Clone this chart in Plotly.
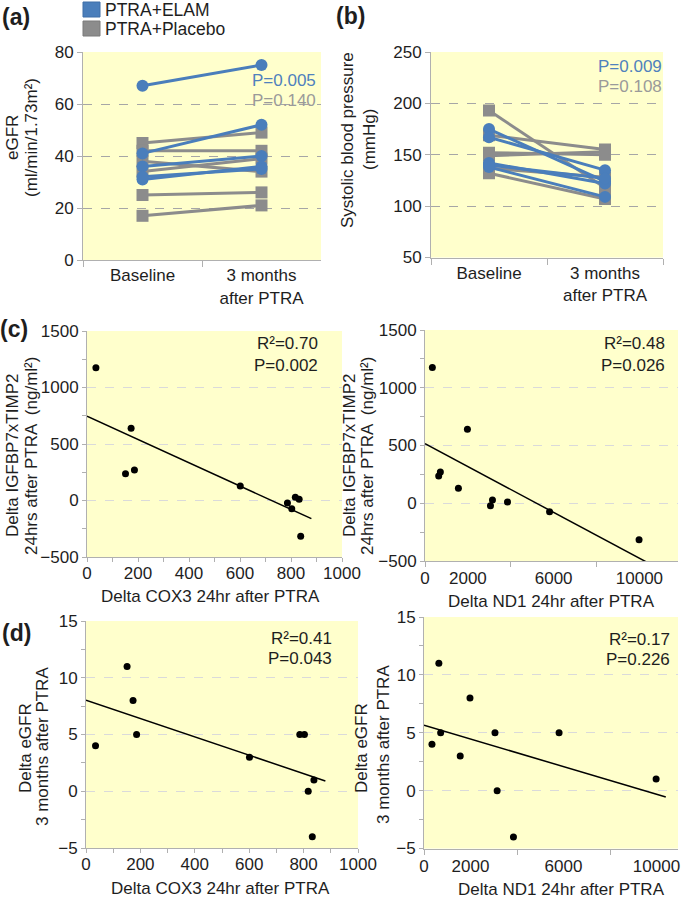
import numpy as np
import plotly.graph_objects as go

W, H = 687, 900
FONT = "Liberation Sans, Arial, sans-serif"
BLUE = "#4A7EBB"
GRAY = "#8C8C8C"
PTXT_BLUE = "#4F81BD"
PTXT_GRAY = "#9A9A9A"
AX = "#B0B0B0"
GRID_AB = "#A6A6A6"
GRID_CD = "#DADADA"
TXT = "#1E1E1E"
BG = "#FFFFCC"

# ---------------- data ----------------
TIMEPOINTS = ["Baseline", "3 months<br>after PTRA"]

EGFR_ELAM_BASE = [67, 41, 36, 31, 32]
EGFR_ELAM_3M = [75, 52, 40, 36, 35]
EGFR_PLAC_BASE = [45, 42, 38, 34, 25, 17]
EGFR_PLAC_3M = [49, 42, 34, 39, 26, 21]

SBP_ELAM_BASE = [175, 167, 142, 138, 140]
SBP_ELAM_3M = [124, 135, 122, 109, 127]
SBP_PLAC_BASE = [193, 169, 152, 149, 137, 132]
SBP_PLAC_3M = [118, 155, 150, 153, 128, 107]

P_EGFR = ["P=0.005", "P=0.140"]
P_SBP = ["P=0.009", "P=0.108"]

DELTA_COX3 = [35, 151, 186, 601, 173, 786, 817, 832, 803, 838]
DELTA_ND1 = [343, 639, 716, 1558, 1978, 3053, 3146, 3847, 5810, 9984]
DELTA_IGFBP = [1175, 236, 270, 129, 640, -22, 29, 11, -73, -317]
DELTA_EGFR = [4, 11, 5, 3, 8, 5, 0, -4, 5, 1]

FIT_X_COX3 = [0, 880]
FIT_X_ND1 = [0, 10400]

STATS = {
    "cL": ["R²=0.70", "P=0.002"],
    "cR": ["R²=0.48", "P=0.026"],
    "dL": ["R²=0.41", "P=0.043"],
    "dR": ["R²=0.17", "P=0.226"],
}

ND1_TICKS = [0, 2000, 6000, 10000]
ND1_TICKMARKS = [0, 4000, 8000, 12000]

# ---------------- helpers ----------------
def xd(x0, x1):
    return [x0 / W, x1 / W]


def yd(y0, y1):
    return [1 - y1 / H, 1 - y0 / H]


def pairs(base, after):
    xs, ys = [], []
    for b, a in zip(base, after):
        xs += [TIMEPOINTS[0], TIMEPOINTS[1], None]
        ys += [b, a, None]
    return xs, ys


annotations = []


def ann(x, y, text, size=17, color=TXT, xanchor="center", yanchor="middle", angle=0, bold=False):
    if bold:
        text = "<b>" + text + "</b>"
    annotations.append(dict(
        x=x / W, y=1 - y / H, xref="paper", yref="paper", text=text, showarrow=False,
        xanchor=xanchor, yanchor=yanchor, textangle=angle, borderpad=0,
        font=dict(family=FONT, size=size, color=color),
    ))


fig = go.Figure()

# ---- panel (a) & (b): paired lines ----
for (xa, ya, base_e, after_e, base_p, after_p) in [
    ("x", "y", EGFR_ELAM_BASE, EGFR_ELAM_3M, EGFR_PLAC_BASE, EGFR_PLAC_3M),
    ("x2", "y2", SBP_ELAM_BASE, SBP_ELAM_3M, SBP_PLAC_BASE, SBP_PLAC_3M),
]:
    px_, py_ = pairs(base_p, after_p)
    fig.add_trace(go.Scatter(x=px_, y=py_, xaxis=xa, yaxis=ya, mode="lines+markers",
                             line=dict(color=GRAY, width=3),
                             marker=dict(symbol="square", size=12, color=GRAY),
                             showlegend=False, connectgaps=False))
    bx_, by_ = pairs(base_e, after_e)
    fig.add_trace(go.Scatter(x=bx_, y=by_, xaxis=xa, yaxis=ya, mode="lines+markers",
                             line=dict(color=BLUE, width=3),
                             marker=dict(symbol="circle", size=12, color=BLUE),
                             showlegend=False, connectgaps=False))

# ---- panels (c) & (d): scatter with fitted line ----
scatter_specs = [
    ("x3", "y3", DELTA_COX3, DELTA_IGFBP, FIT_X_COX3),
    ("x4", "y4", DELTA_ND1, DELTA_IGFBP, FIT_X_ND1),
    ("x5", "y5", DELTA_COX3, DELTA_EGFR, FIT_X_COX3),
    ("x6", "y6", DELTA_ND1, DELTA_EGFR, FIT_X_ND1),
]
for xa, ya, xs, ys, fitx in scatter_specs:
    slope, intercept = np.polyfit(np.array(xs, float), np.array(ys, float), 1)
    fx = np.array(fitx, float)
    fig.add_trace(go.Scatter(x=fx, y=slope * fx + intercept, xaxis=xa, yaxis=ya, mode="lines",
                             line=dict(color="black", width=1.5), showlegend=False))
    fig.add_trace(go.Scatter(x=xs, y=ys, xaxis=xa, yaxis=ya, mode="markers",
                             marker=dict(color="black", size=7), showlegend=False))

tickfont = dict(family=FONT, size=17, color=TXT)

cat_x = dict(type="category", categoryorder="array", categoryarray=TIMEPOINTS,
             range=[-0.5, 1.5], tickson="boundaries", ticks="outside", ticklen=6,
             tickcolor=AX, showline=True, linecolor=AX, showgrid=False, tickfont=tickfont,
             zeroline=False)


def ab_y(rng, dtick):
    return dict(range=rng, dtick=dtick, tick0=0, ticks="outside", ticklen=5, tickcolor=AX,
                showline=True, linecolor=AX, showgrid=True, gridcolor=GRID_AB, griddash="dash",
                gridwidth=1, zeroline=False, tickfont=tickfont)


def cd_y(rng, dtick):
    return dict(range=rng, dtick=dtick, tick0=0, ticks="outside", ticklen=4, tickcolor=AX,
                showline=True, linecolor=AX, showgrid=True, gridcolor=GRID_CD, griddash="dash",
                gridwidth=1, zeroline=False, tickfont=tickfont,
                minor=dict(dtick=dtick / 2, tick0=0, ticks="outside", ticklen=4, tickcolor=AX,
                           showgrid=False))


cox_x = dict(range=[0, 1000], dtick=200, tick0=0, ticks="outside", ticklen=4, tickcolor=AX,
             showline=True, linecolor=AX, showgrid=False, zeroline=False, tickfont=tickfont,
             ticklabelstandoff=-3,
             minor=dict(dtick=100, tick0=0, ticks="outside", ticklen=4, tickcolor=AX, showgrid=False))


def nd1_x(maxv):
    return dict(range=[0, maxv], tickmode="array", tickvals=ND1_TICKS,
                ticktext=[str(v) for v in ND1_TICKS], ticks="", showline=True, linecolor=AX,
                showgrid=False, zeroline=False, tickfont=tickfont, ticklabelstandoff=2,
                minor=dict(tickmode="array", tickvals=ND1_TICKMARKS, ticks="outside", ticklen=5,
                           tickcolor=AX, showgrid=False))


layout = dict(
    width=W, height=H, margin=dict(l=0, r=0, t=0, b=0, autoexpand=False),
    paper_bgcolor="white", plot_bgcolor=BG, showlegend=False,
    font=dict(family=FONT, size=17, color=TXT),
    xaxis=dict(cat_x, domain=xd(83, 321), anchor="y"),
    yaxis=dict(ab_y([0, 80], 20), domain=yd(52, 260), anchor="x"),
    xaxis2=dict(cat_x, domain=xd(431, 663), anchor="y2"),
    yaxis2=dict(ab_y([50, 250], 50), domain=yd(52, 257.5), anchor="x2"),
    xaxis3=dict(cox_x, domain=xd(87, 342), anchor="y3"),
    yaxis3=dict(cd_y([-500, 1500], 500), domain=yd(331, 557), anchor="x3"),
    xaxis4=dict(nd1_x(11800), domain=xd(425, 678), anchor="y4"),
    yaxis4=dict(cd_y([-500, 1500], 500), domain=yd(330, 561), anchor="x4"),
    xaxis5=dict(cox_x, domain=xd(86, 358), anchor="y5"),
    yaxis5=dict(cd_y([-5, 15], 5), domain=yd(621, 848), anchor="x5"),
    xaxis6=dict(nd1_x(10925), domain=xd(424, 678), anchor="y6"),
    yaxis6=dict(cd_y([-5, 15], 5), domain=yd(617, 848.5), anchor="x6"),
)

# panel letters
ann(16, 17, "(a)", size=23, bold=True)
ann(350, 16, "(b)", size=23, bold=True)
ann(14, 329, "(c)", size=23, bold=True)
ann(16, 633, "(d)", size=23, bold=True)

# legend
shapes = [
    dict(type="rect", xref="paper", yref="paper", x0=83 / W, x1=100 / W, y0=1 - 17 / H, y1=1 - 2 / H,
         fillcolor=BLUE, line=dict(color="#3F6FA8", width=1)),
    dict(type="rect", xref="paper", yref="paper", x0=83 / W, x1=100 / W, y0=1 - 36 / H, y1=1 - 21 / H,
         fillcolor=GRAY, line=dict(color="#7A7A7A", width=1)),
]
ann(104, 10, "PTRA+ELAM", size=17.5, xanchor="left")
ann(104, 29, "PTRA+Placebo", size=17.5, xanchor="left")

# P-values (a), (b)
ann(317, 80, P_EGFR[0], color=PTXT_BLUE, xanchor="right")
ann(317, 100, P_EGFR[1], color=PTXT_GRAY, xanchor="right")
ann(663, 67, P_SBP[0], color=PTXT_BLUE, xanchor="right")
ann(663, 86, P_SBP[1], color=PTXT_GRAY, xanchor="right")

# y titles
ann(12, 138, "eGFR", angle=-90)
ann(31, 138, "(ml/min/1.73m²)", angle=-90)
ann(347, 140, "Systolic blood pressure", angle=-90)
ann(369, 140, "(mmHg)", angle=-90)
ann(12, 456, "Delta IGFBP7xTIMP2", angle=-90)
ann(31, 456, "24hrs after PTRA  (ng/ml²)", angle=-90)
ann(349, 456, "Delta IGFBP7xTIMP2", angle=-90)
ann(367, 456, "24hrs after PTRA  (ng/ml²)", angle=-90)
ann(25, 748, "Delta eGFR", angle=-90)
ann(42, 747, "3 months after PTRA", angle=-90)
ann(361, 748, "Delta eGFR", angle=-90)
ann(383, 745, "3 months after PTRA", angle=-90)

# x titles
ann(211, 596, "Delta COX3 24hr after PTRA")
ann(551, 601, "Delta ND1 24hr after PTRA")
ann(220, 888, "Delta COX3 24hr after PTRA")
ann(561, 889, "Delta ND1 24hr after PTRA")

# stats
for key, rx, y1, y2 in [("cL", 319, 343, 365), ("cR", 666, 343, 365),
                        ("dL", 333, 638, 658), ("dR", 671, 639, 659)]:
    ann(rx, y1, STATS[key][0], xanchor="right")
    ann(rx, y2, STATS[key][1], xanchor="right")

layout["annotations"] = annotations
layout["shapes"] = shapes
fig.update_layout(**layout)

fig.write_html("out.html", config={"displayModeBar": False},
               post_script="document.body.style.margin='0';document.body.style.padding='0';")
